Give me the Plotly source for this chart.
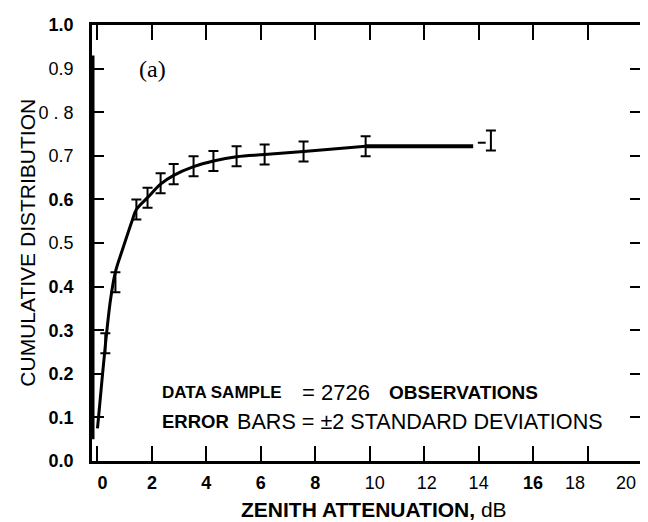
import plotly.graph_objects as go

# Read-off data
curve_x = [0.0, 0.04, 0.29, 0.48, 0.66, 0.92, 1.29, 1.43, 1.84, 2.32, 2.8, 3.53, 4.26, 5.11, 6.14, 7.57, 9.85]
curve_y = [0.075, 0.10, 0.265, 0.37, 0.434, 0.485, 0.554, 0.577, 0.604, 0.635, 0.655, 0.675, 0.688, 0.698, 0.703, 0.71, 0.722]
flat_x = [9.85, 13.8]
flat_y = [0.722, 0.722]
dash_x = [13.97, 14.26]
dash_y = [0.73, 0.73]
bar_x = [0.29, 0.66, 1.43, 1.84, 2.32, 2.8, 3.53, 4.26, 5.11, 6.14, 7.57, 9.85, 14.45]
bar_y = [0.27, 0.41, 0.577, 0.604, 0.637, 0.658, 0.676, 0.688, 0.699, 0.703, 0.71, 0.722, 0.735]
bar_err = [0.023] * len(bar_x)

NB = "\u00a0"
x_ticks = [0, 2, 4, 6, 8, 10, 12, 14, 16, 18, 20]
x_ticktext = [NB * 2 + "<b>0</b>", "<b>2</b>", "<b>4</b>", "<b>6</b>", "<b>8</b>", NB * 2 + "10", NB + "12", "14",
              "<b>16</b>", "18" + NB * 5, "20"]
y_ticks = [0.0, 0.1, 0.2, 0.3, 0.4, 0.5, 0.6, 0.7, 0.8, 0.9, 1.0]
y_ticktext = ["<b>0.0</b>", "<b>0.1</b>", "<b>0.2</b>", "<b>0.3</b>", "<b>0.4</b>", "0.5", "<b>0.6</b>", "0.7", "0 . 8", "0.9", "<b>1.0</b>"]

fig = go.Figure()
fig.add_trace(go.Scatter(x=curve_x, y=curve_y, mode="lines", line=dict(color="black", width=3, shape="spline"),
                         showlegend=False, hoverinfo="skip"))
fig.add_trace(go.Scatter(x=flat_x, y=flat_y, mode="lines", line=dict(color="black", width=4),
                         showlegend=False, hoverinfo="skip"))
fig.add_trace(go.Scatter(x=dash_x, y=dash_y, mode="lines", line=dict(color="black", width=2),
                         showlegend=False, hoverinfo="skip"))
fig.add_trace(go.Scatter(x=bar_x, y=bar_y, mode="markers", marker=dict(size=1, color="black"),
                         error_y=dict(type="data", array=bar_err, visible=True, color="black", thickness=2, width=5),
                         showlegend=False, hoverinfo="skip"))
# thick partial left border
fig.add_trace(go.Scatter(x=[-0.2, -0.2], y=[0.05, 0.93], mode="lines", line=dict(color="black", width=5),
                         showlegend=False, hoverinfo="skip", cliponaxis=False))

ff = "Liberation Sans"
axis_font = dict(family=ff, size=18, color="black")

# last x tick label drawn right-aligned so it stays inside the page
fig.add_annotation(x=x_ticks[-1], xref="x", yref="paper", y=0, yshift=-22, xshift=-4, text=x_ticktext[-1],
                   showarrow=False, xanchor="right", yanchor="middle", font=axis_font)
axis_ticktext = x_ticktext[:-1] + [""]

fig.add_annotation(x=2.02, y=0.9, text="(a)", showarrow=False, xanchor="center", yanchor="middle",
                   font=dict(family="Liberation Serif", size=24, color="black"))
# note lines
fig.add_annotation(x=2.28, y=0.156, text="<b>DATA SAMPLE</b>", showarrow=False, xanchor="left", yanchor="middle",
                   font=dict(family=ff, size=17, color="black"))
fig.add_annotation(x=7.45, y=0.156, text="= 2726", showarrow=False, xanchor="left", yanchor="middle",
                   font=dict(family=ff, size=22, color="black"))
fig.add_annotation(x=10.65, y=0.156, text="<b>OBSERVATIONS</b>", showarrow=False, xanchor="left", yanchor="middle",
                   font=dict(family=ff, size=19, color="black"))
fig.add_annotation(x=2.28, y=0.09, text="<b>ERROR</b>", showarrow=False, xanchor="left", yanchor="middle",
                   font=dict(family=ff, size=18.5, color="black"))
fig.add_annotation(x=5.07, y=0.09, text="BARS = ±2 STANDARD DEVIATIONS", showarrow=False, xanchor="left",
                   yanchor="middle", font=dict(family=ff, size=21.6, color="black"))

# axis titles
fig.add_annotation(xref="paper", yref="paper", x=0.513, y=0, yshift=-48, text="<b>ZENITH ATTENUATION,</b> dB",
                   showarrow=False, xanchor="center", yanchor="middle", font=dict(family=ff, size=21, color="black"))
fig.add_annotation(xref="paper", yref="paper", x=-0.118, y=0.501, text="CUMULATIVE DISTRIBUTION", textangle=-90,
                   showarrow=False, xanchor="center", yanchor="middle", font=dict(family=ff, size=21, color="black"))

# page body adds an 8px offset; figure sized/margined to compensate
fig.update_layout(
    width=640, height=514,
    margin=dict(l=84, r=6, t=17, b=61, autoexpand=False),
    paper_bgcolor="white", plot_bgcolor="white",
    xaxis=dict(range=[-0.2, 20], tickvals=x_ticks, ticktext=axis_ticktext, ticks="inside", ticklen=15, tickwidth=2,
               tickcolor="black", showline=True, linewidth=2.5, linecolor="black", mirror="ticks",
               showgrid=False, zeroline=False, tickfont=axis_font, ticklabelstandoff=4,
               ticklabeloverflow="allow", automargin=False),
    yaxis=dict(range=[0, 1.0], tickvals=y_ticks, ticktext=y_ticktext, ticks="inside", ticklen=12, tickwidth=2,
               tickcolor="black", showline=True, linewidth=2.5, linecolor="black", mirror="ticks",
               showgrid=False, zeroline=False, tickfont=axis_font, ticklabelstandoff=12,
               ticklabeloverflow="allow", automargin=False),
)
fig.write_html("out.html")
